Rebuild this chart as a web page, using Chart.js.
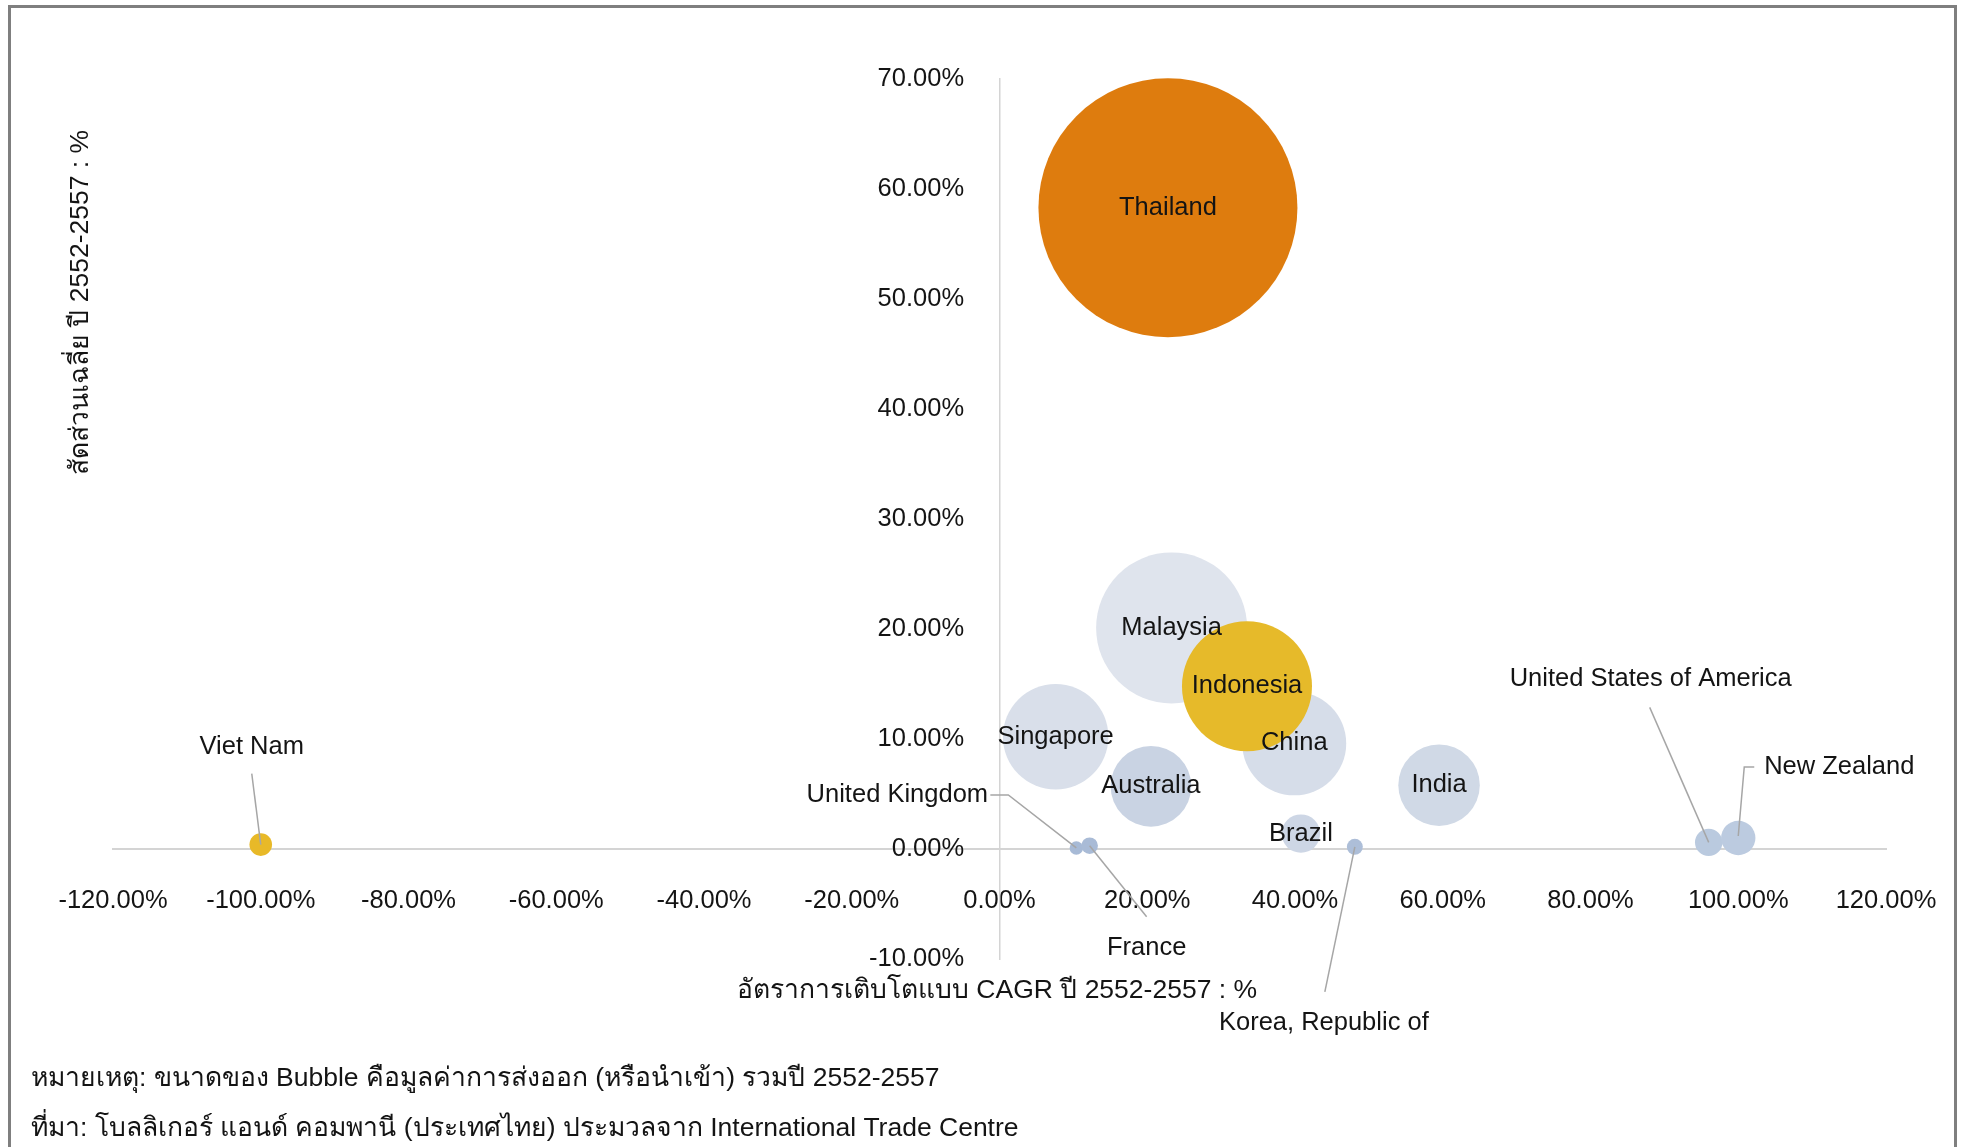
<!DOCTYPE html>
<html lang="th">
<head>
<meta charset="utf-8">
<title>Bubble chart</title>
<script src="https://cdn.jsdelivr.net/npm/chart.js@4.4.1/dist/chart.umd.min.js"></script>
<style>
  html, body { margin: 0; padding: 0; background: #fff; }
  #wrap { width: 1961px; height: 1147px; }
</style>
</head>
<body>
<div id="wrap"><canvas id="bubbleChart" width="1961" height="1147"></canvas></div>
<script>
// market data (drawing order: Indonesia last so it sits on top)
const countries = ['Thailand', 'Malaysia', 'Singapore', 'China', 'Australia', 'India', 'Brazil',
    'United Kingdom', 'France', 'Korea, Republic of', 'United States of America', 'New Zealand',
    'Viet Nam', 'Indonesia'];
const cagr = [22.8, 23.3, 7.6, 39.9, 20.5, 59.5, 40.8, 10.4, 12.2, 48.1, 96.0, 100.0, -100.0, 33.5];
const share = [58.3, 20.1, 10.2, 9.6, 5.7, 5.8, 1.4, 0.1, 0.3, 0.2, 0.6, 1.0, 0.4, 14.8];
// export value, relative (Thailand = 100)
const bubbleValue = [100, 34.0, 16.6, 16.1, 9.7, 9.9, 2.2, 0.27, 0.41, 0.38, 1.12, 1.76, 0.76, 25.2];

const xTickValues = [-120, -100, -80, -60, -40, -20, 0, 20, 40, 60, 80, 100, 120];
const yTickValues = [-10, 0, 10, 20, 30, 40, 50, 60, 70];

const yTitle = 'สัดส่วนเฉลี่ย ปี 2552-2557 : %';
const xTitle = 'อัตราการเติบโตแบบ CAGR ปี 2552-2557 : %';
const noteLines = [
    'หมายเหตุ: ขนาดของ Bubble คือมูลค่าการส่งออก (หรือนำเข้า) รวมปี 2552-2557',
    'ที่มา: โบลลิเกอร์ แอนด์ คอมพานี (ประเทศไทย) ประมวลจาก International Trade Centre'
];

const fillColors = {
    'Thailand': '#DE7C0E',
    'Indonesia': '#E6BA2A',
    'Viet Nam': '#E8B928',
    'Malaysia': '#DFE4ED',
    'Singapore': '#D9DFEA',
    'China': '#D6DDE9',
    'Australia': '#C9D3E3',
    'India': '#D0D9E6',
    'Brazil': '#CDD6E5',
    'United Kingdom': '#A7BAD6',
    'France': '#A9BBD6',
    'Korea, Republic of': '#ADBED8',
    'United States of America': '#BACADF',
    'New Zealand': '#BCCBE0'
};

// labels moved off their bubble, with leader line points (relative to bubble centre)
const movedLabels = {
    'Viet Nam': { dx: -9, dy: -98, leader: [[-9, -71], [0, 0]] },
    'United Kingdom': { dx: -179, dy: -53, leader: [[-86, -53], [-68, -53], [0, 0]] },
    'France': { dx: 57, dy: 102, leader: [[57, 71], [0, 0]] },
    'Korea, Republic of': { dx: -31, dy: 176, leader: [[-30, 145], [0, 0]] },
    'United States of America': { dx: -58, dy: -163, leader: [[-59, -135], [0, 0]] },
    'New Zealand': { dx: 101, dy: -71, leader: [[16, -71], [6, -71], [0, -2]] }
};

const MAX_RADIUS = 129.5;
const maxValue = Math.max(...bubbleValue);
const radiusOf = v => MAX_RADIUS * Math.sqrt(v / maxValue);

const FONT = "'Liberation Sans', Arial, sans-serif";
const FONT_SIZE = 25.5;
const THAI_SIZE = 26.5;
const TEXT_COLOR = '#141414';

// plot box wanted on the canvas
const PLOT = { left: 113, top: 79, right: 1886, bottom: 959 };

const points = countries.map((c, i) => ({ x: cagr[i], y: share[i], r: radiusOf(bubbleValue[i]) }));

// bubbles may spill past the plot box; don't let the big one shrink the layout
Chart.BubbleController.prototype.getMaxOverflow = () => 0;

const pageDecor = {
    id: 'pageDecor',
    beforeDraw(chart) {
        const ctx = chart.ctx;
        ctx.save();
        ctx.fillStyle = '#fff';
        ctx.fillRect(0, 0, chart.width, chart.height);
        ctx.strokeStyle = '#7F7F7F';
        ctx.lineWidth = 3;
        ctx.strokeRect(9.5, 6.5, 1946, 1150);
        ctx.restore();
    },
    afterDraw(chart) {
        const ctx = chart.ctx;
        ctx.save();
        ctx.fillStyle = TEXT_COLOR;
        ctx.font = THAI_SIZE + 'px ' + FONT;
        ctx.textBaseline = 'middle';

        // x title
        ctx.textAlign = 'center';
        ctx.fillText(xTitle, 997, 991);

        // y title, rotated
        ctx.save();
        ctx.translate(81, 475);
        ctx.rotate(-Math.PI / 2);
        ctx.textAlign = 'left';
        ctx.fillText(yTitle, 0, 0);
        ctx.restore();

        // footnotes
        ctx.textAlign = 'left';
        ctx.fillText(noteLines[0], 31, 1079);
        ctx.fillText(noteLines[1], 31, 1129);
        ctx.restore();
    }
};

const bubbleLabels = {
    id: 'bubbleLabels',
    afterDatasetsDraw(chart) {
        const ctx = chart.ctx;
        const meta = chart.getDatasetMeta(0);
        ctx.save();
        ctx.font = FONT_SIZE + 'px ' + FONT;
        ctx.textAlign = 'center';
        ctx.textBaseline = 'middle';
        meta.data.forEach((el, i) => {
            const name = countries[i];
            const moved = movedLabels[name];
            let lx = el.x, ly = el.y;
            if (moved) {
                ctx.strokeStyle = '#A6A6A6';
                ctx.lineWidth = 1.5;
                ctx.beginPath();
                moved.leader.forEach(([px, py], k) => {
                    if (k === 0) ctx.moveTo(el.x + px, el.y + py);
                    else ctx.lineTo(el.x + px, el.y + py);
                });
                ctx.stroke();
                lx += moved.dx;
                ly += moved.dy;
            }
            ctx.fillStyle = TEXT_COLOR;
            ctx.fillText(name, lx, ly);
        });
        ctx.restore();
    }
};

const pct = v => Number(v).toFixed(2) + '%';
const noScalePadding = s => { s.paddingLeft = s.paddingRight = s.paddingTop = s.paddingBottom = 0; };

const chart = new Chart(document.getElementById('bubbleChart').getContext('2d'), {
    type: 'bubble',
    data: {
        datasets: [{
            label: 'Markets',
            data: points,
            backgroundColor: countries.map(c => fillColors[c]),
            borderWidth: 0,
            hoverBorderWidth: 0,
            clip: false
        }]
    },
    options: {
        responsive: false,
        animation: false,
        layout: {
            padding: { left: PLOT.left, right: 1961 - PLOT.right, top: PLOT.top, bottom: 1147 - PLOT.bottom }
        },
        plugins: {
            legend: { display: false },
            tooltip: { enabled: false }
        },
        scales: {
            x: {
                type: 'linear',
                min: -120,
                max: 120,
                position: { y: 0 },
                afterBuildTicks: axis => { axis.ticks = xTickValues.map(v => ({ value: v })); },
                afterFit: noScalePadding,
                grid: { display: false, drawTicks: false },
                border: { display: true, color: '#D4D4D4', width: 2 },
                ticks: {
                    padding: 37,
                    maxRotation: 0,
                    autoSkip: false,
                    color: TEXT_COLOR,
                    font: { family: FONT, size: FONT_SIZE },
                    callback: pct
                }
            },
            y: {
                type: 'linear',
                min: -10,
                max: 70,
                position: { x: 0 },
                afterBuildTicks: axis => { axis.ticks = yTickValues.map(v => ({ value: v })); },
                afterFit: noScalePadding,
                grid: { display: false, drawTicks: false },
                border: { display: true, color: '#D4D4D4', width: 1.5 },
                ticks: {
                    autoSkip: false,
                    color: TEXT_COLOR,
                    font: { family: FONT, size: FONT_SIZE },
                    // trailing gap keeps labels off the vertical axis line
                    callback: v => pct(v) + '     '
                }
            }
        }
    },
    plugins: [pageDecor, bubbleLabels]
});

// nudge the layout padding until the plot box sits where it should
for (let k = 0; k < 3; k++) {
    const ca = chart.chartArea;
    const pad = chart.options.layout.padding;
    const dl = PLOT.left - ca.left, dt = PLOT.top - ca.top;
    const dr = ca.right - PLOT.right, db = ca.bottom - PLOT.bottom;
    if (Math.abs(dl) + Math.abs(dt) + Math.abs(dr) + Math.abs(db) < 1) break;
    chart.options.layout.padding = {
        left: pad.left + dl, top: pad.top + dt,
        right: pad.right + dr, bottom: pad.bottom + db
    };
    chart.update();
}
</script>
</body>
</html>
